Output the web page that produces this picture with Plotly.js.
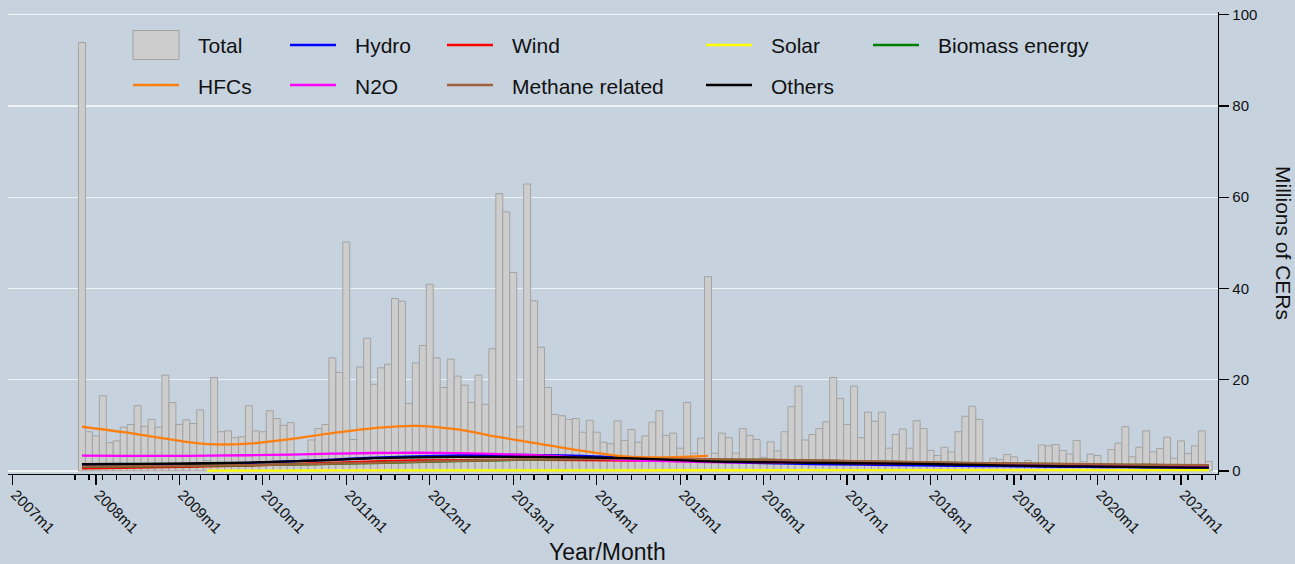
<!DOCTYPE html>
<html><head><meta charset="utf-8">
<script src="https://cdn.plot.ly/plotly-3.0.1.min.js"></script>
<style>html,body{margin:0;padding:0;background:#C6D2DE;}#chart{width:1295px;height:564px;}</style>
</head><body><div id="chart"></div>
<script>
// ---- Monthly total issuance (millions of CERs); series starts 2007m11 ----
const firstYear = 2007, firstMonth = 11;
const total2007 = [93.9, 8.6];
const total2008 = [7.7, 16.5, 6.2, 6.6, 9.6, 10.2, 14.3, 9.8, 11.3, 9.6, 21.0, 15.0];
const total2009 = [10.2, 11.2, 10.4, 13.4, 2.3, 20.5, 8.6, 8.8, 7.3, 7.5, 14.3, 8.8];
const total2010 = [8.6, 13.2, 11.5, 10.0, 10.6, 1.5, 2.6, 6.8, 9.3, 10.2, 24.8, 21.6];
const total2011 = [50.2, 6.9, 22.8, 29.1, 19.0, 22.6, 23.4, 37.8, 37.2, 14.8, 23.7, 27.5];
const total2012 = [40.9, 24.8, 18.3, 24.5, 20.8, 18.8, 15.0, 21.0, 14.6, 26.8, 60.8, 56.8];
const total2013 = [43.5, 9.7, 62.9, 37.3, 27.1, 18.3, 12.4, 12.1, 11.3, 11.5, 8.5, 11.1];
const total2014 = [8.5, 6.3, 6.0, 11.0, 6.7, 9.1, 6.3, 7.7, 10.7, 13.2, 7.8, 8.3];
const total2015 = [5.0, 15.0, 3.9, 7.2, 42.6, 3.9, 8.3, 7.3, 3.9, 9.3, 7.8, 6.9];
const total2016 = [3.0, 6.4, 4.4, 8.6, 14.1, 18.6, 6.8, 8.0, 9.3, 10.8, 20.5, 15.9];
const total2017 = [10.2, 18.6, 7.3, 12.9, 10.9, 12.9, 5.0, 8.0, 9.2, 5.0, 11.0, 9.3];
const total2018 = [4.5, 3.4, 5.2, 4.2, 8.6, 12.0, 14.2, 11.3, 1.0, 2.8, 2.5, 3.6];
const total2019 = [3.1, 1.0, 2.3, 1.0, 5.7, 5.5, 5.8, 4.5, 3.7, 6.7, 2.0, 3.7];
const total2020 = [3.4, 1.0, 4.7, 6.1, 9.7, 3.1, 5.2, 8.8, 4.2, 4.9, 7.4, 2.8];
const total2021 = [6.6, 3.8, 5.5, 8.8, 2.1];

// ---- Smoothed trends by project type (millions of CERs) ----
const trendMonths = ['2007m11','2008m5','2008m11','2009m5','2009m11','2010m5','2010m11','2011m5','2011m11','2012m5',
  '2012m11','2013m5','2013m11','2014m5','2014m11','2015m5','2015m11','2016m5','2016m11','2017m5',
  '2017m11','2018m5','2018m11','2019m5','2019m11','2020m5','2020m11','2021m5'];
const hydro   = [1.2,1.3,1.4,1.6,1.8,2.1,2.5,2.9,3.2,3.4,3.5,3.5,3.3,2.9,2.5,2.1,1.8,1.6,1.45,1.35,1.25,1.15,1.05,0.95,0.9,0.85,0.8,0.75];
const wind    = [0.6,0.7,0.85,1.0,1.2,1.5,1.8,2.1,2.3,2.4,2.45,2.45,2.4,2.3,2.2,2.1,2.0,1.9,1.8,1.7,1.6,1.5,1.45,1.4,1.35,1.3,1.25,1.2];
const solarMonths = trendMonths.slice(3);
const solar   = [0.1,0.1,0.1,0.12,0.12,0.13,0.14,0.15,0.15,0.15,0.15,0.16,0.16,0.16,0.17,0.17,0.17,0.17,0.18,0.18,0.18,0.18,0.19,0.19,0.2];
const biomass = [0.9,0.95,1.05,1.15,1.25,1.4,1.55,1.75,1.95,2.15,2.35,2.5,2.6,2.65,2.6,2.55,2.45,2.35,2.2,2.05,1.9,1.75,1.65,1.55,1.45,1.35,1.3,1.25];
const hfcMonths = trendMonths.slice(0, 16);
const hfcs    = [9.7,8.5,7.1,5.9,6.0,7.0,8.3,9.4,9.9,9.1,7.4,5.9,4.4,3.2,3.0,3.3];
const n2o     = [3.35,3.3,3.3,3.35,3.45,3.6,3.8,3.95,4.0,3.9,3.7,3.4,2.9,2.4,2.15,1.95,1.9,1.85,1.8,1.8,1.75,1.7,1.6,1.45,1.3,1.15,1.05,0.95];
const methane = [0.95,1.0,1.1,1.2,1.3,1.45,1.6,1.8,2.0,2.2,2.4,2.55,2.65,2.7,2.65,2.6,2.5,2.4,2.25,2.1,1.95,1.8,1.7,1.6,1.5,1.4,1.35,1.3];
const others  = [1.5,1.55,1.6,1.7,1.85,2.1,2.4,2.8,3.0,3.1,3.1,3.1,3.0,2.8,2.5,2.1,1.95,1.85,1.75,1.65,1.55,1.4,1.25,1.1,1.0,0.9,0.8,0.75];

const tickLabels = ['2007m1','2008m1','2009m1','2010m1','2011m1','2012m1','2013m1','2014m1',
  '2015m1','2016m1','2017m1','2018m1','2019m1','2020m1','2021m1'];
const yTicks = [0, 20, 40, 60, 80, 100];

// ---- helpers ----
function mIndex(lbl){ const p = lbl.split('m'); return (+p[0]-2007)*12 + (+p[1]-1); }
const yearly = [total2007,total2008,total2009,total2010,total2011,total2012,total2013,total2014,
  total2015,total2016,total2017,total2018,total2019,total2020,total2021];
const barX = [], barY = [];
yearly.forEach((arr, i) => {
  const yr = firstYear + i, m0 = (i === 0 ? firstMonth : 1);
  arr.forEach((v, j) => { barX.push(mIndex(yr + 'm' + (m0 + j))); barY.push(v); });
});

const FONT = 'Liberation Sans, Arial, sans-serif';
const BG = '#C6D2DE';
const colors = {hydro:'#0000FF', wind:'#FF0000', solar:'#FFFF00', biomass:'#008000',
  hfcs:'#FF7F0E', n2o:'#FF00FF', methane:'#A0603C', others:'#000000'};

function lineTrace(name, months, vals, col){
  return {type:'scatter', mode:'lines', name:name, x:months.map(mIndex), y:vals,
    line:{color:col, width:2.3, shape:'spline', smoothing:1}, hoverinfo:'x+y+name'};
}

const traces = [
  {type:'bar', name:'Total', x:barX, y:barY, width:1,
   marker:{color:'#CDCDCD', line:{color:'#A3A3A3', width:1}}},
  lineTrace('Hydro', trendMonths, hydro, colors.hydro),
  lineTrace('Wind', trendMonths, wind, colors.wind),
  lineTrace('Solar', solarMonths, solar, colors.solar),
  lineTrace('Biomass energy', trendMonths, biomass, colors.biomass),
  lineTrace('HFCs', hfcMonths, hfcs, colors.hfcs),
  lineTrace('N2O', trendMonths, n2o, colors.n2o),
  lineTrace('Methane related', trendMonths, methane, colors.methane),
  lineTrace('Others', trendMonths, others, colors.others)
];

// pixel geometry of the plot area
const L = 8, R = 77, T = 12, B = 90, W = 1295, H = 564;
const PW = W - L - R, PH = H - T - B;
const px = v => (v - L) / PW;
const py = v => (H - B - v) / PH;

const minorVals = [];
for (let k = 9; k <= 173; k += 2) minorVals.push(k);

// manual legend (Stata style)
const legendRows = [
  [{t:'Total', bar:true}, {t:'Hydro', c:colors.hydro}, {t:'Wind', c:colors.wind}, {t:'Solar', c:colors.solar}, {t:'Biomass energy', c:colors.biomass}],
  [{t:'HFCs', c:colors.hfcs}, {t:'N2O', c:colors.n2o}, {t:'Methane related', c:colors.methane}, {t:'Others', c:colors.others}]
];
const colX = [133, 290, 447, 706, 873];
const rowY = [45, 85];
const shapes = [{type:'rect', xref:'paper', yref:'paper', layer:'between',
  x0:px(120), x1:px(1218), y0:py(22), y1:py(112), fillcolor:BG, line:{width:0}}];
const annotations = [];
legendRows.forEach((row, r) => row.forEach((it, c) => {
  const x0 = colX[c], yc = rowY[r];
  if (it.bar) {
    shapes.push({type:'rect', xref:'paper', yref:'paper', x0:px(x0), x1:px(x0+46), y0:py(yc-14.5), y1:py(yc+14.5),
      fillcolor:'#CDCDCD', line:{color:'#A3A3A3', width:1}});
  } else {
    shapes.push({type:'line', xref:'paper', yref:'paper', x0:px(x0), x1:px(x0+46), y0:py(yc), y1:py(yc),
      line:{color:it.c, width:2.3}});
  }
  annotations.push({xref:'paper', yref:'paper', x:px(x0+63), y:py(yc+1), xanchor:'left', yanchor:'middle',
    text:it.t, showarrow:false, font:{family:FONT, size:21, color:'#111'}});
}));
annotations.push({xref:'paper', yref:'paper', x:px(607), y:py(552), xanchor:'center', yanchor:'middle',
  text:'Year/Month', showarrow:false, font:{family:FONT, size:23, color:'#111'}});
annotations.push({xref:'paper', yref:'paper', x:px(1284), y:py(243), xanchor:'center', yanchor:'middle',
  text:'Millions of CERs', textangle:90, showarrow:false, font:{family:FONT, size:21, color:'#111'}});

const layout = {
  width:W, height:H, margin:{l:L, r:R, t:T, b:B, pad:0},
  paper_bgcolor:BG, plot_bgcolor:BG, showlegend:false, bargap:0,
  font:{family:FONT, size:15, color:'#111'},
  xaxis:{range:[(L-12.4)/6.956, (L+PW-12.4)/6.956], tickmode:'array',
    tickvals:tickLabels.map(mIndex), ticktext:tickLabels, tickangle:45,
    ticks:'outside', ticklen:10, tickwidth:1.3, tickcolor:'#000',
    ticklabelstandoff:-5, ticklabelshift:3,
    showline:true, linecolor:'#000', linewidth:1.3, showgrid:false, zeroline:false,
    tickfont:{family:FONT, size:15, color:'#111'},
    minor:{tickmode:'array', tickvals:minorVals, ticks:'outside', ticklen:5, tickwidth:1.3, tickcolor:'#000', showgrid:false}},
  yaxis:{side:'right', range:[-3/4.563, (471-T)/4.563], tickmode:'array', tickvals:yTicks,
    ticks:'outside', ticklen:10, tickwidth:1.3, tickcolor:'#000',
    showline:true, linecolor:'#000', linewidth:1.3, showgrid:true, gridcolor:'#EDF3F5', gridwidth:1.3,
    zeroline:false, tickfont:{family:FONT, size:15, color:'#111'}},
  shapes:shapes, annotations:annotations
};

Plotly.newPlot('chart', traces, layout, {displayModeBar:false, staticPlot:true});
</script></body></html>
